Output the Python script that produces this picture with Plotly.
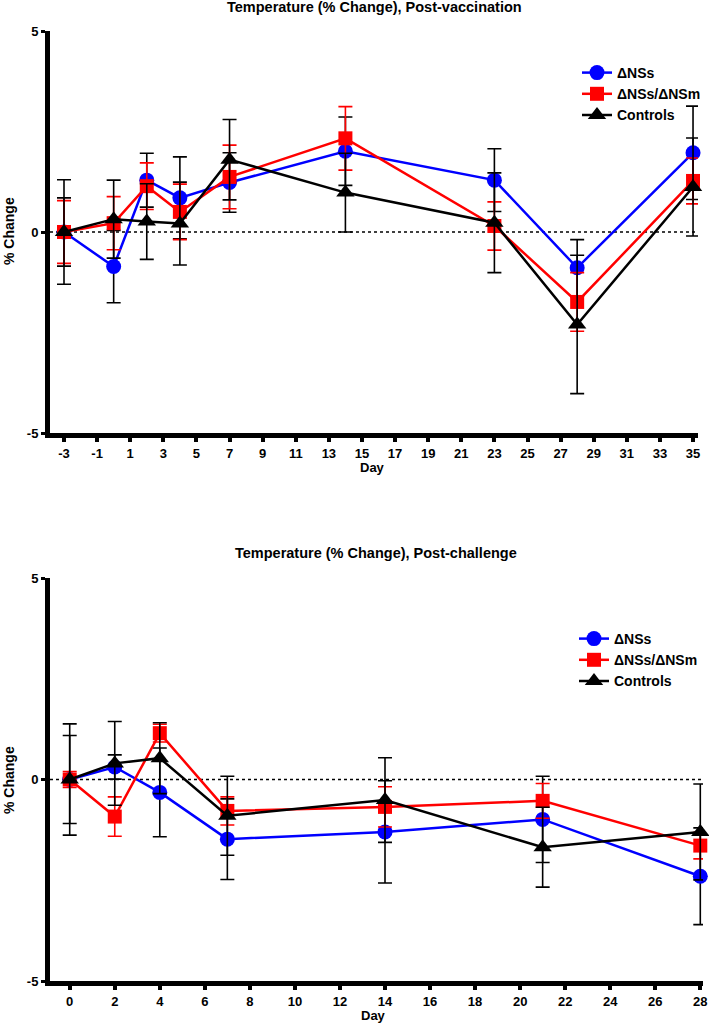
import plotly.graph_objects as go

# ---------------- data ----------------
series_names = ["ΔNSs", "ΔNSs/ΔNSm", "Controls"]

days_vacc = [-3, 0, 2, 4, 7, 14, 23, 28, 35]
nss_vacc = [0, -0.86, 1.29, 0.85, 1.23, 2.01, 1.29, -0.89, 1.97]
nss_vacc_err = [0.85, 0.9, 0.67, 1.02, 0.74, 0.85, 0.78, 0.7, 1.16]
nsm_vacc = [0, 0.22, 1.14, 0.5, 1.37, 2.33, 0.15, -1.74, 1.27]
nsm_vacc_err = [0.78, 0.66, 0.58, 0.69, 0.79, 0.79, 0.6, 0.73, 0.57]
ctl_vacc = [0, 0.32, 0.26, 0.21, 1.8, 0.98, 0.23, -2.3, 1.12]
ctl_vacc_err = [1.3, 0.97, 0.94, 1.03, 1.0, 0.98, 1.24, 1.72, 1.22]

days_chal = [0, 2, 4, 7, 14, 21, 28]
nss_chal = [0, 0.31, -0.32, -1.48, -1.3, -0.99, -2.4]
nss_chal_err = [1.09, 0.3, 1.1, 1.0, 1.27, 1.07, 1.2]
nsm_chal = [0, -0.92, 1.15, -0.78, -0.68, -0.53, -1.64]
nsm_chal_err = [0.2, 0.49, 0.22, 0.35, 0.5, 0.43, 0.33]
ctl_chal = [0, 0.4, 0.53, -0.9, -0.51, -1.68, -1.3]
ctl_chal_err = [1.38, 1.04, 0.88, 0.98, 1.05, 0.99, 1.19]

x_ticks_vacc = list(range(-3, 36, 2))
x_ticks_chal = list(range(0, 29, 2))
y_ticks = [-5, 0, 5]

title_vacc = "Temperature (% Change), Post-vaccination"
title_chal = "Temperature (% Change), Post-challenge"

# ---------------- styling ----------------
W, H = 709, 1025
ML, MR, MT, MB = 50, 6, 31, 44
PW = W - ML - MR
PH = H - MT - MB
FONT = "Liberation Sans, Arial, sans-serif"

colors = ["#0000FF", "#FF0000", "#000000"]
err_colors = ["#000000", "#FF0000", "#000000"]
symbols = ["circle", "square", "triangle-up"]
sizes = [15, 14, 16]


def px_x(p):
    return (p - ML) / PW


def px_y(p):
    return (H - MB - p) / PH


fig = go.Figure()

groups = [
    ("x", "y", "legend", days_vacc,
     [(nss_vacc, nss_vacc_err), (nsm_vacc, nsm_vacc_err), (ctl_vacc, ctl_vacc_err)]),
    ("x2", "y2", "legend2", days_chal,
     [(nss_chal, nss_chal_err), (nsm_chal, nsm_chal_err), (ctl_chal, ctl_chal_err)]),
]

for xa, ya, lg, days, sets in groups:
    for i, (vals, errs) in enumerate(sets):
        fig.add_trace(go.Scatter(
            x=days, y=vals, mode="lines+markers", name=series_names[i],
            xaxis=xa, yaxis=ya, legend=lg, cliponaxis=False,
            line=dict(color=colors[i], width=2.5),
            marker=dict(symbol=symbols[i], size=sizes[i], color=colors[i]),
            error_y=dict(type="data", array=errs, visible=True,
                         color=err_colors[i], thickness=1.6, width=7),
        ))

tickfont = dict(family=FONT, size=13, color="black", weight="bold")

axis_common = dict(showline=True, linewidth=5, linecolor="black", showgrid=False,
                   zeroline=False, ticks="outside", tickcolor="black",
                   tickfont=tickfont, automargin=False)

legend_font = dict(family=FONT, size=14, color="black", weight="bold")

fig.update_layout(
    width=W, height=H,
    margin=dict(l=ML, r=MR, t=MT, b=MB, autoexpand=False),
    paper_bgcolor="white", plot_bgcolor="white",
    font=dict(family=FONT, color="black"),
    xaxis=dict(domain=[0, (698 - ML) / PW], range=[-3.846, 35.3], anchor="y",
               tickvals=x_ticks_vacc, ticktext=[str(v) for v in x_ticks_vacc],
               ticklen=4, tickwidth=4, **axis_common),
    yaxis=dict(domain=[px_y(433), 1], range=[-5, 5], anchor="x",
               tickvals=y_ticks, ticktext=[str(v) for v in y_ticks],
               ticklen=4, tickwidth=3, **axis_common),
    xaxis2=dict(domain=[0, 1], range=[-0.875, 28.12], anchor="y2",
                tickvals=x_ticks_chal, ticktext=[str(v) for v in x_ticks_chal],
                ticklen=4, tickwidth=4, **axis_common),
    yaxis2=dict(domain=[0, px_y(578)], range=[-5, 5], anchor="x2",
                tickvals=y_ticks, ticktext=[str(v) for v in y_ticks],
                ticklen=4, tickwidth=3, **axis_common),
    legend=dict(x=px_x(577), y=px_y(57), xanchor="left", yanchor="top",
                bgcolor="rgba(0,0,0,0)", tracegroupgap=0, font=legend_font),
    legend2=dict(x=px_x(574), y=px_y(623), xanchor="left", yanchor="top",
                 bgcolor="rgba(0,0,0,0)", tracegroupgap=0, font=legend_font),
)

for xa, ya in [("x", "y"), ("x2", "y2")]:
    fig.add_shape(type="line", xref=f"{xa} domain", yref=ya, x0=0, x1=1, y0=0, y1=0,
                  line=dict(color="black", width=1.5, dash="dot"), layer="below")

title_font = dict(family=FONT, size=14.5, color="black", weight="bold")
ylab_font = dict(family=FONT, size=14, color="black", weight="bold")
day_font = dict(family=FONT, size=13, color="black", weight="bold")
annots = [
    (title_vacc, 374, 7, 0, title_font),
    (title_chal, 376, 553, 0, title_font),
    ("Day", 372, 467, 0, day_font),
    ("Day", 373, 1016, 0, day_font),
    ("% Change", 9, 231, -90, ylab_font),
    ("% Change", 9, 780, -90, ylab_font),
]
for text, ax_, ay_, ang, fnt in annots:
    fig.add_annotation(text=text, xref="paper", yref="paper", x=px_x(ax_), y=px_y(ay_),
                       xanchor="center", yanchor="middle", showarrow=False,
                       textangle=ang, font=fnt)

fig.write_html(
    "out.html",
    config={"displayModeBar": False},
    post_script="document.body.style.margin='0px';"
                "document.documentElement.style.overflow='hidden';",
)
